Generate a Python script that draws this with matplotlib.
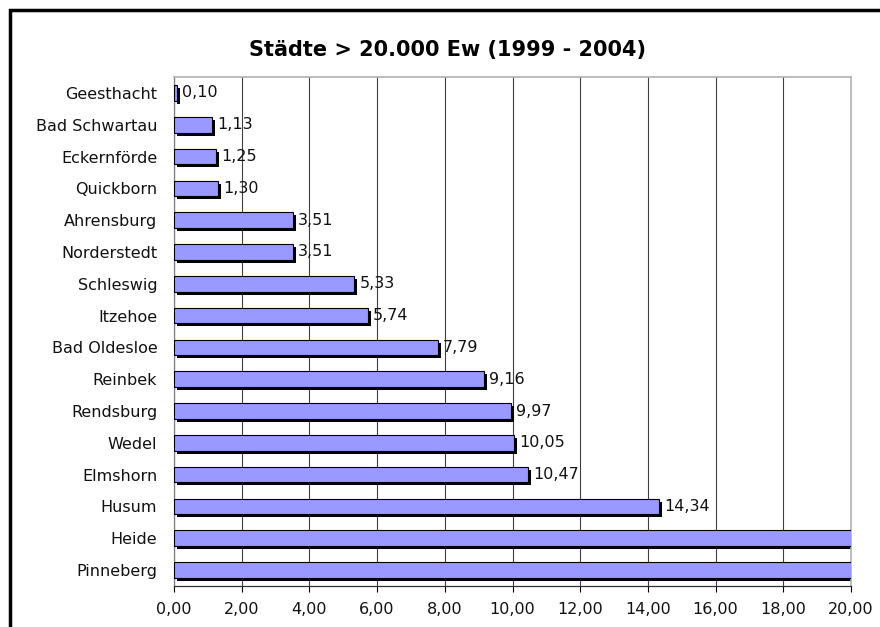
import numpy as np
import matplotlib
matplotlib.use("Agg")
import matplotlib.pyplot as plt
from matplotlib.patches import Rectangle
from matplotlib.transforms import ScaledTranslation

plt.rcParams['font.family'] = ['DejaVu Sans']

staedte = ["Geesthacht", "Bad Schwartau", "Eckernförde", "Quickborn", "Ahrensburg",
           "Norderstedt", "Schleswig", "Itzehoe", "Bad Oldesloe", "Reinbek",
           "Rendsburg", "Wedel", "Elmshorn", "Husum", "Heide", "Pinneberg"]
werte = [0.10, 1.13, 1.25, 1.30, 3.51, 3.51, 5.33, 5.74, 7.79, 9.16,
         9.97, 10.05, 10.47, 14.34, 23.5, 24.0]
x_ticks = [0, 2, 4, 6, 8, 10, 12, 14, 16, 18, 20]
titel = "Städte > 20.000 Ew (1999 - 2004)"

fig = plt.figure(figsize=(8.8, 6.27), dpi=100)
ax = fig.add_axes([174/880, 1-586/627, (851-174)/880, (586-77)/627])

y = np.arange(len(staedte))
shadow = ax.transData + ScaledTranslation(3/100, -3/100, fig.dpi_scale_trans)
ax.barh(y, werte, height=0.49, color="black", transform=shadow, zorder=2)
ax.barh(y, werte, height=0.49, color="#9999FF", edgecolor="black", linewidth=0.8, zorder=3)

for yi, v in zip(y, werte):
    if v <= 20:
        ax.annotate(f"{v:.2f}".replace(".", ","), (v, yi), xytext=(3.5, 0),
                    textcoords="offset points", va="center", ha="left",
                    fontsize=11.5, color="#111111", zorder=4)

ax.set_xlim(0, 20)
ax.set_ylim(len(staedte) - 0.5, -0.5)
ax.set_xticks(x_ticks)
ax.set_xticklabels([f"{t:.2f}".replace(".", ",") for t in x_ticks], fontsize=11.5, color="#111111")
ax.set_yticks(y)
ax.set_yticklabels(staedte, fontsize=11.5, color="#111111")
ax.tick_params(axis="y", length=0, pad=12)
ax.tick_params(axis="x", length=4, width=0.8, pad=7.5, direction="out")
ax.grid(axis="x", color="#404040", linewidth=0.8, zorder=0)
ax.set_axisbelow(True)
for s in ["top", "right"]:
    ax.spines[s].set_color("#b0b0b0")
    ax.spines[s].set_linewidth(1.2)
ax.spines["left"].set_color("#808080")
ax.spines["left"].set_linewidth(0.9)
ax.spines["bottom"].set_color("#303030")
ax.spines["bottom"].set_linewidth(0.9)

fig.text(447/880, 1-50/627, titel, ha="center", va="center",
         fontsize=15, fontweight="bold")

# Rahmen um das Diagramm
fig.patches.append(Rectangle((10/880, -0.1), 1.2, 1.1 - 10/627,
                             transform=fig.transFigure, fill=False,
                             edgecolor="black", linewidth=2.5))

fig.savefig("out.png", dpi=100)
